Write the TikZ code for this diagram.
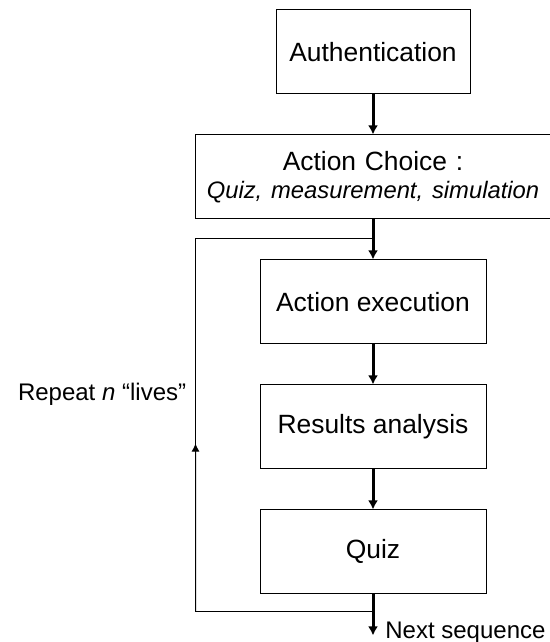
\documentclass[tikz,border=0pt]{standalone}
\usepackage{fontspec}
\setmainfont{Liberation Sans}
\usepackage{tikz}
\usetikzlibrary{matrix, positioning, calc, arrows.meta}
\tikzset{
	flow/.style={
		,matrix of nodes
		,row sep		= 20pt
		,inner sep		= 0pt
		,nodes			= {draw, rectangle, line width = 0.5pt, inner sep = 2pt,
		                   minimum width = 113pt, minimum height = 42pt,
		                   align = center, font = \fontsize{13.2}{14}\selectfont}
	}
	,auth/.style	 = {minimum width = 97pt}
	,choice/.style	 = {minimum width = 177pt, text width = 172pt}
	,link/.style	 = {line width = 1.5pt, ->}
	,backline/.style = {line width = 0.5pt}
	,note/.style	 = {font = \fontsize{12}{14}\selectfont, inner sep = 1pt}
}

\begin{document}
\begin{tikzpicture}[>={Latex[length=4.5pt,width=5pt]}]

	\useasboundingbox (0,0) rectangle (275pt,-321pt);

	% the boxes
	\matrix (mat) [flow, anchor=north] at (186.5pt,-4.5pt) {
	|[auth]| Authentication\\
	|[choice]| Action Choice :\par\fontsize{11.9}{12.5}\selectfont\itshape Quiz, measurement, simulation\\
	Action execution\\
	Results analysis\\
	Quiz\\
	};

	% points of the loop
	\coordinate[above=10.5pt of mat-3-1.north] (fork);
	\coordinate[below=8.5pt of mat-5-1.south] (merge);
	\coordinate[below=20.5pt of mat-5-1.south] (exit);
	\coordinate (corner top) at (fork -| mat-2-1.west);
	\coordinate (corner bottom) at (merge -| mat-2-1.west);
	\coordinate (turn) at ($(corner bottom)!.45!(corner top)$);
	\coordinate (repeat point) at ($(corner bottom)!.583!(corner top)$);

	% the arrows
	\draw[link] (mat-1-1) -- (mat-2-1);
	\draw[link] (mat-2-1) -- (mat-3-1);
	\draw[link] (mat-3-1) -- (mat-4-1);
	\draw[link] (mat-4-1) -- (mat-5-1);
	\draw[link] (mat-5-1) -- (exit);

	% the loop back
	\draw[backline] (merge) -- (corner bottom) -- (corner top) -- (fork);
	\draw[backline, >={Latex[length=4pt,width=4pt]}, ->] (corner bottom) -- (turn);

	% labels
	\node[note, left=3.5pt of repeat point] (repeat) {Repeat {\itshape n} “lives”};
	\node[note, right=5pt of exit, yshift=1.5pt] (next) {Next sequence};
\end{tikzpicture}
\end{document}
